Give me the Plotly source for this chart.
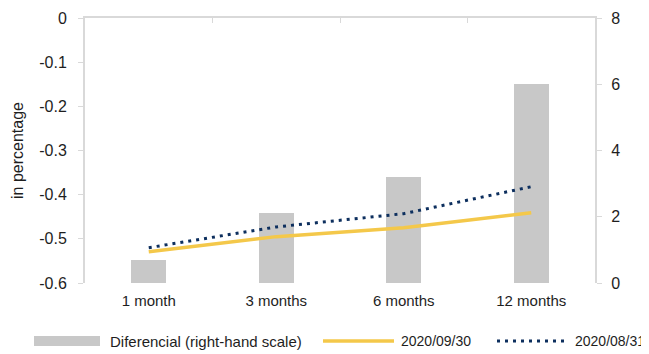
import plotly.graph_objects as go

# ---------- DADOS ----------
categorias = ['1 month', '3 months', '6 months', '12 months']
diferencial = [0.7, 2.1, 3.2, 6.0]              # escala da direita
serie_0930 = [-0.529, -0.495, -0.475, -0.441]   # 2020/09/30
serie_0831 = [-0.520, -0.473, -0.443, -0.382]   # 2020/08/31

ticks_esq = [0, -0.1, -0.2, -0.3, -0.4, -0.5, -0.6]
labels_esq = ['0', '-0.1', '-0.2', '-0.3', '-0.4', '-0.5', '-0.6']
ticks_dir = [0, 2, 4, 6, 8]

nome_bar = 'Diferencial (right-hand scale)'
nome_0930 = '2020/09/30'
nome_0831 = '2020/08/31'

COR_BAR = '#c8c8c8'
COR_AMARELO = '#f4c84a'
COR_AZUL = '#0d2f5e'
COR_EIXO = '#d9d9d9'
COR_TEXTO = '#1e1e1e'
FONTE = 'Liberation Sans Narrow, Arial Narrow, Liberation Sans, Arial'

# a página tem 8px de margem no body -> figura um pouco menor
OFF = 8
W, H = 649 - OFF, 354 - OFF
L, R, T, B = 85 - OFF, 54, 18 - OFF, 71


def px_x(p):
    return (p - OFF - L) / (W - L - R)


def px_y(p):
    return (H - B - (p - OFF)) / (H - T - B)


fig = go.Figure()

# barras no eixo "y" (lado direito), linhas no y2 por cima
fig.add_trace(go.Bar(
    x=categorias, y=diferencial, name=nome_bar,
    marker=dict(color=COR_BAR, line=dict(width=0)),
    width=0.275, yaxis='y', showlegend=False
))
fig.add_trace(go.Scatter(
    x=categorias, y=serie_0930, name=nome_0930, mode='lines',
    line=dict(color=COR_AMARELO, width=3.5), yaxis='y2', showlegend=False
))
fig.add_trace(go.Scatter(
    x=categorias, y=serie_0831, name=nome_0831, mode='lines',
    line=dict(color=COR_AZUL, width=3, dash='3px,5px'), yaxis='y2', showlegend=False
))
# traço invisível para desenhar o eixo de categorias no topo
fig.add_trace(go.Scatter(
    x=categorias, y=[None] * 4, xaxis='x2', yaxis='y', showlegend=False,
    hoverinfo='skip'
))

# legenda manual
legenda = [
    (34, 100, 'bar', COR_BAR, nome_bar, 108, 15),
    (323, 394, 'solid', COR_AMARELO, nome_0930, 399, 14),
    (497, 567, 'dot', COR_AZUL, nome_0831, 573, 14),
]
shapes = []
annotations = []
y_leg = 341
for x0, x1, tipo, cor, nome, xt, tam in legenda:
    if tipo == 'bar':
        shapes.append(dict(type='rect', xref='paper', yref='paper',
                           x0=px_x(x0), x1=px_x(x1), y0=px_y(y_leg + 5), y1=px_y(y_leg - 5),
                           fillcolor=cor, line=dict(width=0)))
    else:
        shapes.append(dict(type='line', xref='paper', yref='paper',
                           x0=px_x(x0), x1=px_x(x1), y0=px_y(y_leg), y1=px_y(y_leg),
                           line=dict(color=cor, width=3.5 if tipo == 'solid' else 3,
                                     dash='solid' if tipo == 'solid' else '3px,5px')))
    annotations.append(dict(text=nome, xref='paper', yref='paper', x=px_x(xt), y=px_y(y_leg),
                            xanchor='left', yanchor='middle', showarrow=False,
                            font=dict(size=tam, color=COR_TEXTO, family=FONTE)))

fig.update_layout(
    width=W, height=H,
    margin=dict(l=L, r=R, t=T, b=B),
    plot_bgcolor='white', paper_bgcolor='white',
    font=dict(family=FONTE, size=16, color=COR_TEXTO),
    bargap=0,
    shapes=shapes,
    annotations=annotations,
    xaxis=dict(
        type='category', categoryorder='array', categoryarray=categorias,
        range=[-0.5, 3.5], showline=False, showgrid=False, ticks='',
        ticklabelstandoff=7, zeroline=False, automargin=False,
        tickfont=dict(size=15)
    ),
    xaxis2=dict(
        type='category', categoryorder='array', categoryarray=categorias,
        overlaying='x', side='top', range=[-0.5, 3.5], matches='x',
        showline=True, linecolor=COR_EIXO, linewidth=2,
        ticks='inside', tickson='boundaries', ticklen=5, tickcolor=COR_EIXO,
        showticklabels=False, showgrid=False, automargin=False
    ),
    yaxis=dict(
        side='right', range=[0, 8], tickvals=ticks_dir, showgrid=False, zeroline=False,
        showline=True, linecolor=COR_EIXO, linewidth=2,
        ticks='outside', ticklen=5, tickcolor=COR_EIXO, ticklabelstandoff=6,
        automargin=False
    ),
    yaxis2=dict(
        overlaying='y', side='left', range=[-0.6, 0],
        tickvals=ticks_esq, ticktext=labels_esq,
        showgrid=False, zeroline=False,
        showline=True, linecolor=COR_EIXO, linewidth=2,
        ticks='outside', ticklen=5, tickcolor=COR_EIXO, ticklabelstandoff=8,
        automargin=False,
        title=dict(text='in percentage', standoff=12, font=dict(size=16))
    ),
)

fig.write_html("out.html")
